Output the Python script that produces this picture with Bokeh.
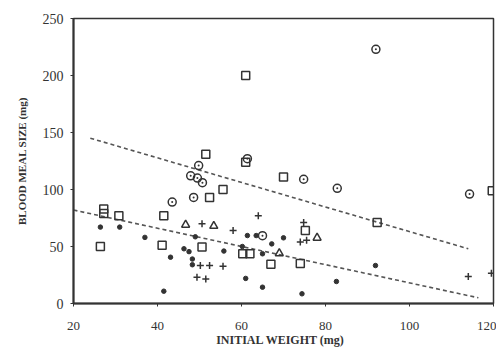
from bokeh.plotting import figure
from bokeh.models import Range1d, FixedTicker
from bokeh.embed import file_html
from bokeh.resources import INLINE

# ---- data ----
circle_x = [92, 61.4, 49.8, 47.9, 49.5, 50.7, 74.8, 82.8, 48.6, 43.5, 114.3, 65.0]
circle_y = [223, 127, 121, 112, 110, 106, 109, 101, 93, 89, 96, 59.5]

square_x = [61, 51.5, 61, 70, 55.6, 52.4, 119.7, 27.2, 27.2, 30.8, 41.5, 92.3, 75.2, 26.4, 41.1, 50.6, 60.3, 62.0, 67, 74]
square_y = [200, 131, 124, 111, 100, 93, 99, 83, 79, 77, 77, 71, 64, 50, 51, 49.5, 43.6, 43.6, 34.5, 35]

tri_x = [46.7, 53.4, 78, 69]
tri_y = [69, 68, 57.6, 44]

plus_x = [64, 50.6, 58, 74, 75.5, 50.2, 52.4, 55.6, 49.4, 51.5, 114, 119.5, 74.8]
plus_y = [77, 70, 64, 54, 55.5, 33.3, 33.3, 32.7, 23, 21.5, 23.7, 26.5, 71]

dot_x = [26.4, 31, 61.4, 63.5, 70, 37, 49, 67.2, 46.3, 47.5, 60.2, 55.8, 65, 43.1, 48.3, 48.3, 91.9, 61, 82.6, 65, 41.5, 74.4]
dot_y = [67, 67, 59.6, 59.6, 57.6, 58, 58.5, 52.3, 48, 45.5, 50, 46, 43.6, 40.6, 39, 34, 33.3, 22, 19.3, 14.3, 10.8, 8.5]

upper_line_x = [24, 114]
upper_line_y = [145, 48]
lower_line_x = [20, 116.4]
lower_line_y = [82, 5]

x_ticks = [20, 40, 60, 80, 100, 120]
y_ticks = [0, 50, 100, 150, 200, 250]

ink = "#333333"

p = figure(width=496, height=350, output_backend="svg", toolbar_location=None,
           x_range=Range1d(20, 120), y_range=Range1d(0, 250),
           min_border_left=73, min_border_right=3, min_border_top=18, min_border_bottom=47)
p.background_fill_color = "white"
p.border_fill_color = "white"
p.grid.visible = False
p.outline_line_color = ink
p.outline_line_width = 1.5

for ax in (p.xaxis[0], p.yaxis[0]):
    ax.axis_line_color = ink
    ax.axis_line_width = 2
    ax.major_tick_line_color = ink
    ax.major_tick_in = 0
    ax.major_tick_out = 3
    ax.minor_tick_line_color = None
    ax.major_label_text_font = "Liberation Serif"
    ax.major_label_text_font_size = "14px"
    ax.major_label_text_color = ink
    ax.axis_label_text_font = "Liberation Serif"
    ax.axis_label_text_font_style = "bold"
    ax.axis_label_text_color = ink

p.xaxis.ticker = FixedTicker(ticks=x_ticks)
p.yaxis.ticker = FixedTicker(ticks=y_ticks)
p.xaxis.axis_label = "INITIAL WEIGHT   (mg)"
p.yaxis.axis_label = "BLOOD MEAL SIZE (mg)"
p.xaxis.major_label_text_font_size = "13px"
p.xaxis.axis_label_text_font_size = "12px"
p.yaxis.axis_label_text_font_size = "11px"
p.xaxis.major_label_standoff = 15
p.xaxis.axis_label_standoff = 0
p.yaxis.major_label_standoff = 7
p.yaxis.axis_label_standoff = 12

p.line(upper_line_x, upper_line_y, line_color="#555555", line_width=1.6, line_dash="4 3")
p.line(lower_line_x, lower_line_y, line_color="#555555", line_width=1.6, line_dash="4 3")

p.scatter(circle_x, circle_y, marker="circle_dot", size=8, line_color=ink, line_width=1.5, fill_color=None)
p.scatter(square_x, square_y, marker="square", size=8, line_color=ink, line_width=1.5, fill_color=None)
p.scatter(tri_x, tri_y, marker="triangle", size=8, line_color=ink, line_width=1.5, fill_color=None)
p.scatter(plus_x, plus_y, marker="cross", size=7, line_color=ink, line_width=1.5)
p.scatter(dot_x, dot_y, marker="circle", size=4.5, line_color=ink, fill_color=ink)

open("out.html", "w").write(file_html(p, INLINE))
